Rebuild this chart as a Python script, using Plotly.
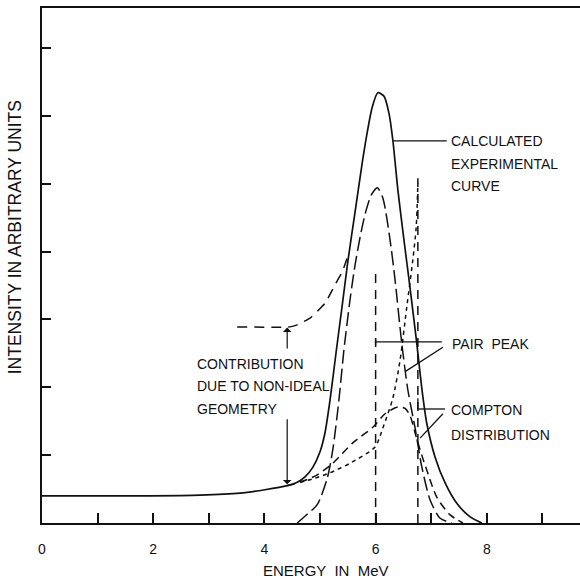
import plotly.graph_objects as go

# Energy axis in MeV, intensity in arbitrary units
# Calculated experimental curve (solid)
calc_e = [0, 1.04, 1.94, 2.84, 3.56, 4.01, 4.41, 4.59, 4.73, 4.87,
          5.00, 5.09, 5.18, 5.29, 5.40, 5.50, 5.63, 5.76, 5.85, 5.94,
          6.04, 6.15, 6.24, 6.31, 6.40, 6.51, 6.62, 6.74, 6.83, 6.92,
          7.07, 7.25, 7.46, 7.70, 7.91]
calc_i = [0.40, 0.40, 0.40, 0.41, 0.44, 0.49, 0.55, 0.60, 0.68, 0.82,
          1.05, 1.33, 1.81, 2.52, 3.21, 3.85, 4.58, 5.31, 5.76, 6.13,
          6.34, 6.29, 6.04, 5.64, 4.91, 4.17, 3.46, 2.65, 1.99, 1.47,
          0.97, 0.59, 0.29, 0.09, 0.0]

# Full-energy peak (long dashes)
peak_e = [4.59, 4.77, 4.95, 5.13, 5.23, 5.34, 5.43, 5.54, 5.63, 5.74,
          5.83, 5.92, 6.03, 6.13, 6.26, 6.35, 6.47, 6.58, 6.71, 6.83,
          6.98, 7.16, 7.37]
peak_i = [0.0, 0.13, 0.27, 0.66, 1.08, 1.81, 2.55, 3.29, 3.80, 4.29,
          4.61, 4.83, 4.94, 4.79, 4.17, 3.58, 2.65, 1.96, 1.40, 0.83,
          0.34, 0.07, 0.0]

# Compton distribution including non-ideal geometry tail (medium dashes)
compton_e = [4.41, 4.64, 4.95, 5.23, 5.59, 5.95, 6.17, 6.40, 6.53, 6.62,
             6.73, 6.83, 6.92, 7.10, 7.34, 7.57]
compton_i = [0.55, 0.60, 0.71, 0.88, 1.18, 1.41, 1.61, 1.71, 1.69, 1.58,
             1.27, 1.00, 0.78, 0.38, 0.12, 0.0]

# Pair peak contribution (short dashes)
pair_e = [4.64, 4.91, 5.18, 5.54, 5.99, 6.13, 6.31, 6.44, 6.56, 6.67,
          6.73, 6.76]
pair_i = [0.60, 0.66, 0.74, 0.88, 1.12, 1.40, 1.84, 2.40, 3.18, 3.88,
          4.36, 5.01]

# Non-ideal geometry contribution, drawn displaced upward
geom_e = [3.51, 4.46, 4.59, 4.82, 5.09, 5.27, 5.40, 5.49]
geom_i = [2.89, 2.89, 2.92, 3.02, 3.24, 3.51, 3.70, 3.91]

# Line energies (vertical dashed markers) and their heights
line_e = [6.00, 6.76]
line_h = [3.73, 5.08]

x_ticks = [0, 1, 2, 3, 4, 5, 6, 7, 8, 9]
x_tick_text = ["0", "", "2", "", "4", "", "6", "", "8", ""]
y_ticks = [1, 2, 3, 4, 5, 6, 7]

INK = "#111111"
FONT = "Liberation Sans"

fig = go.Figure()


def curve(xs, ys, dash, width=1.5, smooth=0.7):
    fig.add_trace(go.Scatter(
        x=xs, y=ys, mode="lines",
        line=dict(color=INK, width=width, dash=dash,
                  shape="spline", smoothing=smooth),
        hoverinfo="skip", showlegend=False))


curve(calc_e, calc_i, "solid", width=1.7)
curve(peak_e, peak_i, "14px,5px")
curve(compton_e, compton_i, "8px,5px")
curve(pair_e, pair_i, "4px,4px")
curve(geom_e, geom_i, "10px,7px", smooth=0.5)

for e, h in zip(line_e, line_h):
    fig.add_trace(go.Scatter(
        x=[e, e], y=[0, h], mode="lines",
        line=dict(color=INK, width=1.5, dash="9px,7px"),
        hoverinfo="skip", showlegend=False))

# Leader lines for the labels
leaders = [
    ((6.31, 5.63), (7.28, 5.63)),
    ((6.00, 2.67), (7.19, 2.67)),
    ((6.00, 2.62), (6.00, 2.72)),
    ((6.53, 2.23), (7.21, 2.59)),
    ((6.76, 1.68), (7.25, 1.68)),
    ((6.76, 1.68), (6.76, 1.84)),
    ((6.80, 1.25), (7.21, 1.61)),
]
for (x0, y0), (x1, y1) in leaders:
    fig.add_shape(type="line", x0=x0, y0=y0, x1=x1, y1=y1,
                  xref="x", yref="y", line=dict(color=INK, width=1.3))

labels = [
    ("CALCULATED", 7.32, 5.63),
    ("EXPERIMENTAL", 7.32, 5.29),
    ("CURVE", 7.32, 4.97),
    ("PAIR  PEAK", 7.34, 2.64),
    ("COMPTON", 7.32, 1.67),
    ("DISTRIBUTION", 7.32, 1.30),
    ("CONTRIBUTION", 2.75, 2.34),
    ("DUE TO NON-IDEAL", 2.75, 2.02),
    ("GEOMETRY", 2.75, 1.68),
]
for text, x, y in labels:
    fig.add_annotation(x=x, y=y, xref="x", yref="y", text=text,
                       showarrow=False, xanchor="left", yanchor="middle",
                       font=dict(family=FONT, size=14, color=INK))

# Arrows from the non-ideal geometry label
fig.add_annotation(x=4.41, y=2.88, ax=4.41, ay=2.55, xref="x", yref="y",
                   axref="x", ayref="y", text="", showarrow=True,
                   arrowhead=1, arrowsize=1.2, arrowwidth=1.2, arrowcolor=INK)
fig.add_annotation(x=4.41, y=0.57, ax=4.41, ay=1.55, xref="x", yref="y",
                   axref="x", ayref="y", text="", showarrow=True,
                   arrowhead=1, arrowsize=1.2, arrowwidth=1.2, arrowcolor=INK)

# Axis titles (placed relative to the plotting area)
fig.add_annotation(x=0.527, y=-0.093, xref="paper", yref="paper",
                   text="ENERGY  IN  MeV", showarrow=False,
                   xanchor="center", yanchor="middle",
                   font=dict(family=FONT, size=15, color=INK))
fig.add_annotation(x=-0.050, y=0.555, xref="paper", yref="paper",
                   text="INTENSITY IN ARBITRARY UNITS", textangle=-90,
                   showarrow=False, xanchor="center", yanchor="middle",
                   font=dict(family=FONT, size=17.5, color=INK))

fig.update_layout(
    width=580, height=579,
    margin=dict(l=42, r=0, t=8, b=56),
    paper_bgcolor="white", plot_bgcolor="white",
    showlegend=False,
    xaxis=dict(range=[0, 9.676], tickvals=x_ticks, ticktext=x_tick_text,
               ticks="inside", ticklen=10, tickwidth=1.5, tickcolor=INK,
               showline=True, linewidth=2, linecolor=INK, mirror=True,
               showgrid=False, zeroline=False, ticklabelstandoff=12,
               tickfont=dict(family=FONT, size=14, color=INK)),
    yaxis=dict(range=[0, 7.589], tickvals=y_ticks, showticklabels=False,
               ticks="inside", ticklen=9, tickwidth=1.5, tickcolor=INK,
               showline=True, linewidth=2, linecolor=INK,
               showgrid=False, zeroline=False),
)

fig.write_html("out.html")
